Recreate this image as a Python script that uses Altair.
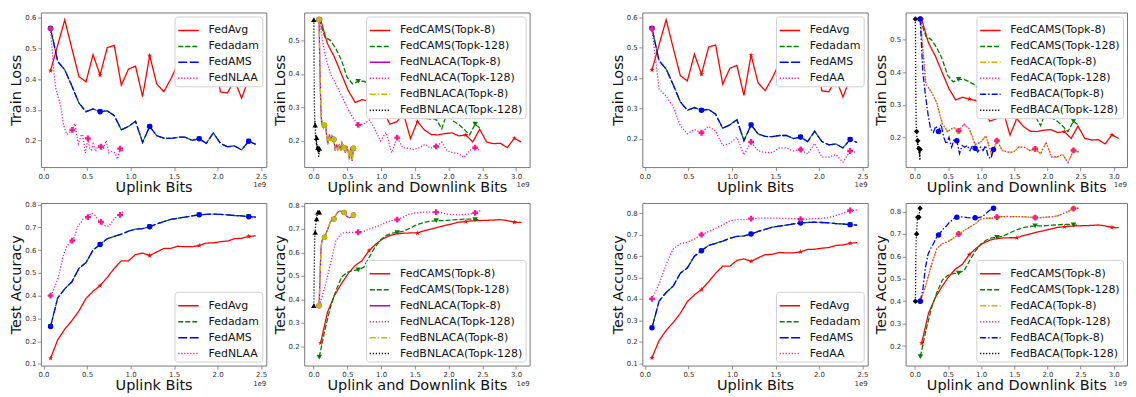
import altair as alt
import pandas as pd

FONT = "DejaVu Sans"

# ---------------- x positions (units of 1e9 bits) ----------------
X_UP = [0.081, 0.163, 0.244, 0.325, 0.407, 0.488, 0.569, 0.650, 0.732, 0.813,
        0.894, 0.976, 1.057, 1.138, 1.220, 1.301, 1.382, 1.463, 1.545, 1.626,
        1.707, 1.789, 1.870, 1.951, 2.033, 2.114, 2.195, 2.276, 2.358, 2.439]
X_NLAA = [0.081, 0.11, 0.14, 0.17, 0.20, 0.23, 0.27, 0.33, 0.36, 0.38,
          0.40, 0.43, 0.45, 0.48, 0.51, 0.53, 0.55, 0.57, 0.60, 0.62,
          0.64, 0.66, 0.69, 0.72, 0.75, 0.78, 0.82, 0.85, 0.88, 0.92]
X_UD8 = [0.103, 0.205, 0.308, 0.410, 0.513, 0.615, 0.718, 0.820, 0.923, 1.025,
         1.128, 1.230, 1.333, 1.435, 1.538, 1.640, 1.743, 1.845, 1.948, 2.050,
         2.153, 2.255, 2.358, 2.460, 2.563, 2.665, 2.768, 2.870, 2.973, 3.075]
X_UD128 = [0.083, 0.165, 0.248, 0.330, 0.413, 0.495, 0.578, 0.660, 0.743, 0.825,
           0.908, 0.990, 1.073, 1.155, 1.238, 1.320, 1.403, 1.485, 1.568, 1.650,
           1.733, 1.815, 1.898, 1.980, 2.063, 2.145, 2.228, 2.310, 2.393, 2.475]
X_BNL8 = [0.08, 0.09, 0.10, 0.11, 0.12, 0.13, 0.145, 0.16, 0.175, 0.19,
          0.21, 0.235, 0.25, 0.27, 0.30, 0.32, 0.34, 0.36, 0.38, 0.40,
          0.42, 0.45, 0.47, 0.49, 0.51, 0.53, 0.55, 0.57, 0.59, 0.61]
X_BNL128 = [0.003, 0.006, 0.009, 0.012, 0.015, 0.017, 0.020, 0.023, 0.026, 0.029,
            0.032, 0.035, 0.038, 0.041, 0.044, 0.046, 0.049, 0.052, 0.055, 0.058,
            0.061, 0.064, 0.067, 0.070, 0.073, 0.075, 0.078, 0.081, 0.084, 0.087]
X_BACA8 = [0.080, 0.120, 0.159, 0.199, 0.238, 0.278, 0.317, 0.357, 0.396, 0.436,
           0.475, 0.515, 0.554, 0.594, 0.633, 0.673, 0.712, 0.752, 0.791, 0.831,
           0.870, 0.910, 0.949, 0.989, 1.028, 1.068, 1.107, 1.147, 1.186, 1.226]
X_BACA128 = [0.008, 0.011, 0.013, 0.016, 0.018, 0.021, 0.023, 0.026, 0.028, 0.031,
             0.033, 0.036, 0.038, 0.041, 0.043, 0.046, 0.048, 0.051, 0.053, 0.056,
             0.058, 0.061, 0.063, 0.066, 0.068, 0.071, 0.073, 0.076, 0.078, 0.081]

# ---------------- train loss ----------------
FEDAVG_LOSS = [0.427, 0.51, 0.592, 0.50, 0.408, 0.391, 0.479, 0.413, 0.502, 0.509,
               0.380, 0.432, 0.442, 0.343, 0.476, 0.384, 0.359, 0.40, 0.45, 0.41,
               0.45, 0.42, 0.40, 0.49, 0.358, 0.355, 0.397, 0.338, 0.40, 0.43]
FEDAMS_LOSS = [0.564, 0.457, 0.43, 0.378, 0.322, 0.294, 0.303, 0.294, 0.297, 0.281,
               0.235, 0.246, 0.263, 0.194, 0.246, 0.216, 0.208, 0.207, 0.211, 0.211,
               0.201, 0.206, 0.191, 0.225, 0.191, 0.18, 0.183, 0.17, 0.198, 0.188]
FEDADAM_LOSS = [0.564, 0.457, 0.43, 0.378, 0.322, 0.294, 0.303, 0.294, 0.297, 0.281,
                0.235, 0.246, 0.263, 0.194, 0.246, 0.216, 0.208, 0.207, 0.211, 0.211,
                0.201, 0.206, 0.191, 0.225, 0.191, 0.18, 0.183, 0.17, 0.198, 0.188]
FEDNLAA_LOSS = [0.564, 0.45, 0.37, 0.34, 0.31, 0.25, 0.22, 0.235, 0.255, 0.22,
                0.19, 0.215, 0.22, 0.16, 0.207, 0.175, 0.17, 0.19, 0.165, 0.18,
                0.185, 0.18, 0.175, 0.20, 0.16, 0.165, 0.16, 0.14, 0.174, 0.165]
FEDAA_LOSS = [0.562, 0.364, 0.34, 0.306, 0.243, 0.217, 0.231, 0.22, 0.241, 0.225,
              0.178, 0.185, 0.205, 0.147, 0.19, 0.16, 0.155, 0.155, 0.17, 0.17,
              0.16, 0.165, 0.15, 0.185, 0.14, 0.14, 0.148, 0.123, 0.16, 0.155]
FEDCAMS8_LOSS = [0.562, 0.49, 0.45, 0.40, 0.35, 0.315, 0.323, 0.318, 0.313, 0.295,
                 0.25, 0.257, 0.28, 0.207, 0.258, 0.233, 0.219, 0.218, 0.222, 0.224,
                 0.215, 0.218, 0.197, 0.235, 0.197, 0.192, 0.193, 0.18, 0.208, 0.197]
FEDCAMS128_LOSS = [0.562, 0.51, 0.50, 0.475, 0.44, 0.39, 0.37, 0.378, 0.378, 0.37,
                   0.36, 0.345, 0.355, 0.275, 0.30, 0.29, 0.283, 0.275, 0.27, 0.268,
                   0.265, 0.265, 0.236, 0.285, 0.26, 0.25, 0.235, 0.218, 0.25, 0.236]
FEDNLACA128_LOSS = [0.562, 0.46, 0.40, 0.37, 0.335, 0.30, 0.27, 0.248, 0.25, 0.262,
                    0.235, 0.20, 0.225, 0.165, 0.21, 0.18, 0.178, 0.174, 0.18, 0.19,
                    0.178, 0.184, 0.196, 0.17, 0.165, 0.162, 0.15, 0.172, 0.18, 0.17]
FEDBNLACA8_LOSS = [0.562, 0.45, 0.35, 0.28, 0.25, 0.255, 0.24, 0.247, 0.25, 0.22,
                   0.19, 0.22, 0.20, 0.215, 0.205, 0.17, 0.19, 0.175, 0.19, 0.17,
                   0.195, 0.18, 0.165, 0.185, 0.17, 0.145, 0.18, 0.14, 0.178, 0.17]
FEDNLACA8_LOSS = FEDBNLACA8_LOSS
FEDBNLACA128_LOSS = [0.562, 0.45, 0.35, 0.30, 0.27, 0.25, 0.26, 0.247, 0.23, 0.21,
                     0.22, 0.20, 0.21, 0.19, 0.21, 0.18, 0.19, 0.175, 0.185, 0.17,
                     0.18, 0.18, 0.165, 0.185, 0.17, 0.15, 0.175, 0.16, 0.178, 0.16]
FEDACA_LOSS = FEDAA_LOSS
FEDBACA8_LOSS = [0.563, 0.40, 0.33, 0.27, 0.225, 0.215, 0.235, 0.218, 0.24, 0.20,
                 0.18, 0.20, 0.17, 0.195, 0.19, 0.15, 0.175, 0.17, 0.175, 0.16,
                 0.175, 0.167, 0.155, 0.17, 0.16, 0.175, 0.14, 0.135, 0.163, 0.16]
FEDBACA128_LOSS = [0.563, 0.45, 0.36, 0.30, 0.26, 0.23, 0.225, 0.218, 0.21, 0.20,
                   0.19, 0.195, 0.19, 0.18, 0.19, 0.17, 0.18, 0.165, 0.17, 0.16,
                   0.17, 0.166, 0.15, 0.165, 0.155, 0.14, 0.16, 0.13, 0.163, 0.16]

# ---------------- test accuracy ----------------
FEDAVG_ACC = [0.125, 0.206, 0.253, 0.29, 0.333, 0.388, 0.419, 0.444, 0.48, 0.52,
              0.553, 0.553, 0.58, 0.587, 0.576, 0.592, 0.607, 0.608, 0.617, 0.615,
              0.615, 0.62, 0.631, 0.632, 0.637, 0.64, 0.65, 0.652, 0.66, 0.663]
FEDAMS_ACC = [0.265, 0.39, 0.43, 0.46, 0.52, 0.545, 0.60, 0.625, 0.65, 0.66,
              0.67, 0.683, 0.692, 0.694, 0.703, 0.715, 0.725, 0.735, 0.74, 0.745,
              0.75, 0.755, 0.757, 0.758, 0.757, 0.755, 0.752, 0.75, 0.747, 0.745]
FEDADAM_ACC = [0.265, 0.39, 0.43, 0.46, 0.52, 0.545, 0.60, 0.625, 0.65, 0.66,
               0.67, 0.683, 0.692, 0.694, 0.703, 0.715, 0.725, 0.735, 0.74, 0.745,
               0.75, 0.755, 0.757, 0.758, 0.757, 0.755, 0.752, 0.75, 0.747, 0.745]
FEDNLAA_ACC = [0.40, 0.42, 0.45, 0.48, 0.53, 0.58, 0.62, 0.642, 0.66, 0.69,
               0.71, 0.72, 0.735, 0.74, 0.745, 0.755, 0.762, 0.76, 0.75, 0.735,
               0.728, 0.724, 0.71, 0.705, 0.705, 0.72, 0.74, 0.75, 0.755, 0.77]
FEDAA_ACC = [0.40, 0.47, 0.56, 0.634, 0.657, 0.665, 0.68, 0.70, 0.715, 0.73,
             0.745, 0.765, 0.77, 0.77, 0.775, 0.777, 0.778, 0.777, 0.777, 0.776,
             0.775, 0.773, 0.773, 0.775, 0.776, 0.78, 0.79, 0.80, 0.813, 0.815]
FEDCAMS8_ACC = [0.213, 0.345, 0.416, 0.466, 0.51, 0.544, 0.565, 0.608, 0.636, 0.658,
                0.672, 0.679, 0.682, 0.683, 0.683, 0.693, 0.70, 0.708, 0.715, 0.722,
                0.729, 0.732, 0.735, 0.736, 0.737, 0.738, 0.74, 0.736, 0.729, 0.728]
FEDCAMS128_ACC = [0.153, 0.267, 0.366, 0.437, 0.494, 0.515, 0.523, 0.525, 0.537, 0.58,
                  0.622, 0.653, 0.672, 0.682, 0.685, 0.69, 0.70, 0.712, 0.722, 0.729,
                  0.733, 0.736, 0.736, 0.737, 0.739, 0.74, 0.742, 0.742, 0.74, 0.739]
FEDNLACA128_ACC = [0.373, 0.45, 0.55, 0.65, 0.682, 0.686, 0.686, 0.686, 0.69, 0.70,
                   0.708, 0.717, 0.729, 0.736, 0.74, 0.75, 0.762, 0.767, 0.77, 0.772,
                   0.772, 0.772, 0.769, 0.764, 0.762, 0.76, 0.762, 0.764, 0.769, 0.779]
FEDBNLACA8_ACC = [0.373, 0.45, 0.55, 0.62, 0.645, 0.655, 0.66, 0.665, 0.67, 0.685,
                  0.70, 0.72, 0.73, 0.738, 0.743, 0.755, 0.765, 0.772, 0.775, 0.776,
                  0.774, 0.77, 0.765, 0.755, 0.75, 0.748, 0.75, 0.755, 0.76, 0.77]
FEDNLACA8_ACC = FEDBNLACA8_ACC
FEDBNLACA128_ACC = [0.373, 0.45, 0.53, 0.60, 0.65, 0.67, 0.68, 0.686, 0.70, 0.715,
                    0.725, 0.73, 0.735, 0.74, 0.743, 0.75, 0.755, 0.76, 0.765, 0.77,
                    0.77, 0.772, 0.772, 0.773, 0.772, 0.772, 0.772, 0.772, 0.772, 0.772]
FEDACA_ACC = FEDAA_ACC
FEDBACA8_ACC = [0.40, 0.45, 0.55, 0.61, 0.635, 0.655, 0.68, 0.695, 0.71, 0.725,
                0.735, 0.75, 0.76, 0.77, 0.774, 0.776, 0.776, 0.775, 0.773, 0.772,
                0.771, 0.772, 0.772, 0.775, 0.78, 0.79, 0.80, 0.81, 0.815, 0.815]
FEDBACA128_ACC = [0.40, 0.48, 0.55, 0.61, 0.65, 0.68, 0.69, 0.70, 0.715, 0.73,
                  0.745, 0.755, 0.765, 0.77, 0.774, 0.775, 0.775, 0.774, 0.773, 0.772,
                  0.772, 0.774, 0.776, 0.78, 0.79, 0.80, 0.805, 0.81, 0.815, 0.815]

# ---------------- styles ----------------
RED, GREEN, BLUE, PINK = "#ff0000", "#008000", "#0000ff", "#ff1493"
MAGENTA, OLIVE, BLACK = "#bf00bf", "#bfbf00", "#000000"
SOLID, DASH_G, DASH_B = [1, 0], [5, 2], [9, 2.5]
DOT, DASHDOT = [1.2, 1.8], [6, 2, 1.5, 2]
STAR = ("M0,-1L0.2245,-0.309L0.951,-0.309L0.363,0.118L0.588,0.809L0,0.382"
        "L-0.588,0.809L-0.363,0.118L-0.951,-0.309L-0.2245,-0.309Z")
MSIZE = {"circle": 30, "triangle-down": 30, "triangle-up": 30, "cross": 34, "diamond": 30}

UP_TICKS = [0.0, 0.5, 1.0, 1.5, 2.0, 2.5]
UD_TICKS = [0.0, 0.5, 1.0, 1.5, 2.0, 2.5, 3.0]
UP_DOM = [-0.03, 2.56]
UD_DOM = [-0.14, 3.2]


def panel(series, xtitle, ytitle, xdom, xticks, ydom, yticks, orient, w, h):
    rows = []
    for name, xs, ys, _c, _d, _s in series:
        for i, (xv, yv) in enumerate(zip(xs, ys)):
            rows.append({"series": name, "x": xv, "y": yv, "i": i, "mk": i % 7 == 0})
    df = pd.DataFrame(rows)
    names = [s[0] for s in series]
    colors = [s[3] for s in series]
    dashes = [s[4] for s in series]
    xenc = alt.X("x:Q", scale=alt.Scale(domain=xdom, nice=False, zero=False),
                 axis=alt.Axis(values=xticks, format=".1f", title=xtitle))
    yenc = alt.Y("y:Q", scale=alt.Scale(domain=ydom, nice=False, zero=False),
                 axis=alt.Axis(values=yticks, format=".1f", title=ytitle))
    leg = alt.Legend(title=None, orient=orient)
    base = alt.Chart(df)
    layers = [base.mark_line(strokeWidth=1.3, clip=True).encode(
        x=xenc, y=yenc,
        color=alt.Color("series:N", scale=alt.Scale(domain=names, range=colors), legend=leg),
        strokeDash=alt.StrokeDash("series:N", scale=alt.Scale(domain=names, range=dashes), legend=leg),
        order="i:Q",
    )]
    for name, _x, _y, col, _d, shp in series:
        layers.append(
            base.transform_filter(
                (alt.datum.series == name) & alt.datum.mk
            ).mark_point(
                shape=shp, filled=True, size=MSIZE.get(shp, 30), color=col,
                opacity=1, clip=True,
            ).encode(x=xenc, y=yenc)
        )
    layers.append(
        alt.Chart(pd.DataFrame({"t": ["1e9"]})).mark_text(
            align="right", baseline="alphabetic", fontSize=7, font=FONT, color="#333"
        ).encode(x=alt.value(w), y=alt.value(h + 20), text="t:N")
    )
    return alt.layer(*layers).properties(width=w, height=h)


H1, H2 = 155, 163

up_loss = [
    ("FedAvg", X_UP, FEDAVG_LOSS, RED, SOLID, STAR),
    ("Fedadam", X_UP, FEDADAM_LOSS, GREEN, DASH_G, "triangle-down"),
    ("FedAMS", X_UP, FEDAMS_LOSS, BLUE, DASH_B, "circle"),
]
up_acc = [
    ("FedAvg", X_UP, FEDAVG_ACC, RED, SOLID, STAR),
    ("Fedadam", X_UP, FEDADAM_ACC, GREEN, DASH_G, "triangle-down"),
    ("FedAMS", X_UP, FEDAMS_ACC, BLUE, DASH_B, "circle"),
]
cams_loss = [
    ("FedCAMS(Topk-8)", X_UD8, FEDCAMS8_LOSS, RED, SOLID, STAR),
    ("FedCAMS(Topk-128)", X_UD128, FEDCAMS128_LOSS, GREEN, DASH_G, "triangle-down"),
]
cams_acc = [
    ("FedCAMS(Topk-8)", X_UD8, FEDCAMS8_ACC, RED, SOLID, STAR),
    ("FedCAMS(Topk-128)", X_UD128, FEDCAMS128_ACC, GREEN, DASH_G, "triangle-down"),
]

p1 = panel(up_loss + [("FedNLAA", X_NLAA, FEDNLAA_LOSS, PINK, DOT, "cross")],
           "Uplink Bits", "Train Loss", UP_DOM, UP_TICKS, [0.114, 0.616],
           [0.2, 0.3, 0.4, 0.5, 0.6], "top-right", 226, H1)
p3 = panel(up_acc + [("FedNLAA", X_NLAA, FEDNLAA_ACC, PINK, DOT, "cross")],
           "Uplink Bits", "Test Accuracy", UP_DOM, UP_TICKS, [0.093, 0.807],
           [0.1, 0.2, 0.3, 0.4, 0.5, 0.6, 0.7, 0.8], "bottom-right", 226, H2)
p2 = panel(cams_loss + [
    ("FedNLACA(Topk-8)", X_BNL8, FEDNLACA8_LOSS, MAGENTA, SOLID, "circle"),
    ("FedNLACA(Topk-128)", X_UD128, FEDNLACA128_LOSS, PINK, DOT, "cross"),
    ("FedBNLACA(Topk-8)", X_BNL8, FEDBNLACA8_LOSS, OLIVE, DASHDOT, "circle"),
    ("FedBNLACA(Topk-128)", X_BNL128, FEDBNLACA128_LOSS, BLACK, DOT, "triangle-up")],
    "Uplink and Downlink Bits", "Train Loss", UD_DOM, UD_TICKS, [0.122, 0.583],
    [0.2, 0.3, 0.4, 0.5], "top-right", 226, H1)
p4 = panel(cams_acc + [
    ("FedNLACA(Topk-8)", X_BNL8, FEDNLACA8_ACC, MAGENTA, SOLID, "circle"),
    ("FedNLACA(Topk-128)", X_UD128, FEDNLACA128_ACC, PINK, DOT, "cross"),
    ("FedBNLACA(Topk-8)", X_BNL8, FEDBNLACA8_ACC, OLIVE, DASHDOT, "circle"),
    ("FedBNLACA(Topk-128)", X_BNL128, FEDBNLACA128_ACC, BLACK, DOT, "triangle-up")],
    "Uplink and Downlink Bits", "Test Accuracy", UD_DOM, UD_TICKS, [0.117, 0.811],
    [0.2, 0.3, 0.4, 0.5, 0.6, 0.7, 0.8], "bottom-right", 226, H2)
p5 = panel(up_loss + [("FedAA", X_UP, FEDAA_LOSS, PINK, DOT, "cross")],
           "Uplink Bits", "Train Loss", UP_DOM, UP_TICKS, [0.107, 0.616],
           [0.2, 0.3, 0.4, 0.5, 0.6], "top-right", 226, H1)
p7 = panel(up_acc + [("FedAA", X_UP, FEDAA_ACC, PINK, DOT, "cross")],
           "Uplink Bits", "Test Accuracy", UP_DOM, UP_TICKS, [0.089, 0.848],
           [0.1, 0.2, 0.3, 0.4, 0.5, 0.6, 0.7, 0.8], "bottom-right", 226, H2)
p6 = panel(cams_loss + [
    ("FedACA(Topk-8)", X_UD128, FEDACA_LOSS, OLIVE, DASHDOT, "circle"),
    ("FedACA(Topk-128)", X_UD128, FEDACA_LOSS, PINK, DOT, "cross"),
    ("FedBACA(Topk-8)", X_BACA8, FEDBACA8_LOSS, BLUE, DASHDOT, "circle"),
    ("FedBACA(Topk-128)", X_BACA128, FEDBACA128_LOSS, BLACK, DOT, "diamond")],
    "Uplink and Downlink Bits", "Train Loss", UD_DOM, UD_TICKS, [0.109, 0.583],
    [0.2, 0.3, 0.4, 0.5], "top-right", 222, H1)
p8 = panel(cams_acc + [
    ("FedACA(Topk-8)", X_UD128, FEDACA_ACC, OLIVE, DASHDOT, "circle"),
    ("FedACA(Topk-128)", X_UD128, FEDACA_ACC, PINK, DOT, "cross"),
    ("FedBACA(Topk-8)", X_BACA8, FEDBACA8_ACC, BLUE, DASHDOT, "circle"),
    ("FedBACA(Topk-128)", X_BACA128, FEDBACA128_ACC, BLACK, DOT, "diamond")],
    "Uplink and Downlink Bits", "Test Accuracy", UD_DOM, UD_TICKS, [0.113, 0.838],
    [0.2, 0.3, 0.4, 0.5, 0.6, 0.7, 0.8], "bottom-right", 222, H2)


def spacer(h):
    return alt.Chart(pd.DataFrame({"a": [0]})).mark_point(opacity=0).encode(
        x=alt.value(0), y=alt.value(0)
    ).properties(width=37, height=h, view=alt.ViewBackground(stroke="transparent"))


chart = alt.concat(
    p1, p2, spacer(H1), p5, p6,
    p3, p4, spacer(H2), p7, p8,
    columns=5, spacing={"row": 36, "column": 38}, bounds="flush",
).resolve_scale(
    color="independent", strokeDash="independent"
).properties(
    padding={"left": 0, "top": 0, "right": 0, "bottom": 0}
).configure(font=FONT).configure_view(
    stroke="#777", strokeWidth=1
).configure_axis(
    labelFontSize=7, labelFont=FONT, labelColor="#333", labelFlush=False,
    titleFont=FONT, titleFontSize=14.5, titleFontWeight="normal", titleColor="#111",
    tickSize=3.5, tickColor="#777", tickWidth=0.8, domain=False, grid=False,
    labelPadding=1.5, titlePadding=1,
).configure_legend(
    fillColor="white", strokeColor="#d0d0d0", cornerRadius=3, padding=3,
    labelFontSize=11, labelFont=FONT, labelColor="#111", symbolStrokeWidth=1.5,
    symbolSize=420, rowPadding=0, labelOffset=9, offset=4, symbolType="stroke",
)

chart.save("out.html", embed_options={"renderer": "svg", "actions": False})
